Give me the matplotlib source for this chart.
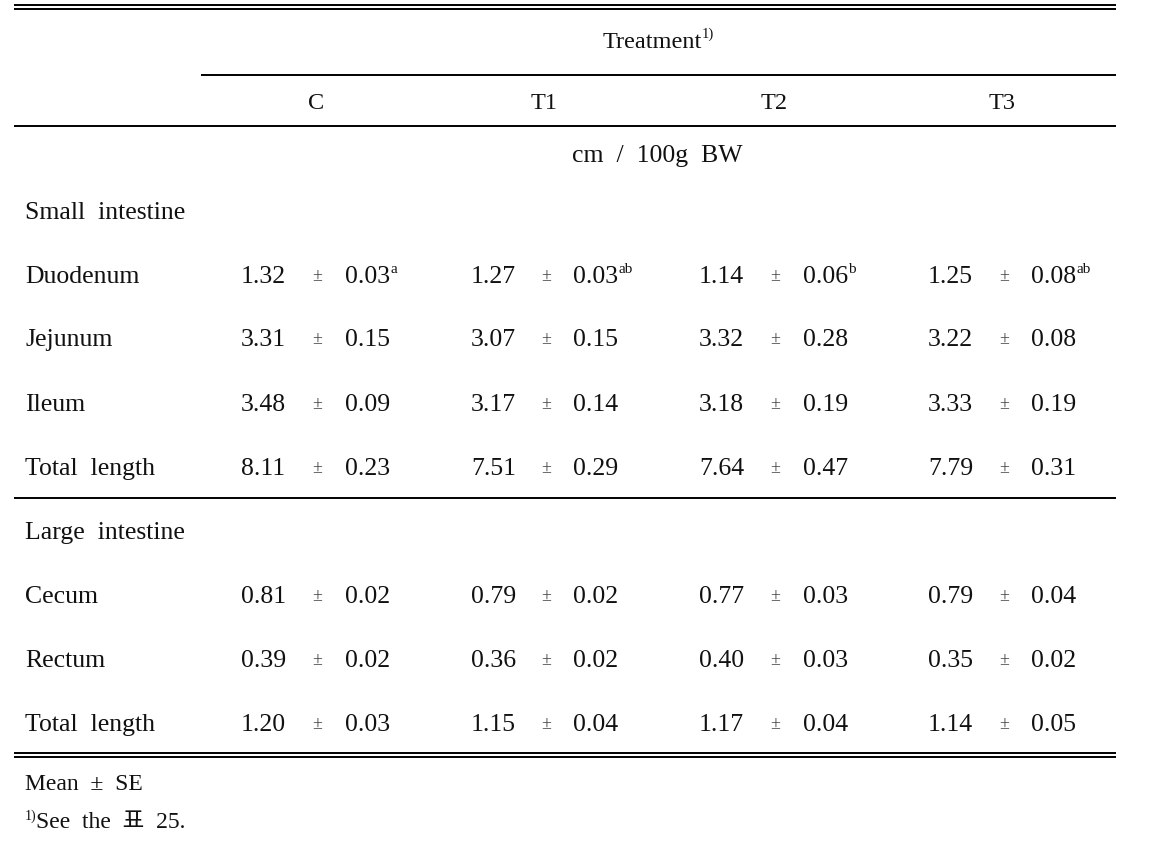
import matplotlib
matplotlib.use("Agg")
import matplotlib.pyplot as plt

# ---- data ----
treatments = ["C", "T1", "T2", "T3"]
row_labels = ["Duodenum", "Jejunum", "Ileum", "Total  length",
              "Cecum", "Rectum", "Total  length"]
means = {
    "C":  ["1.32", "3.31", "3.48", "8.11", "0.81", "0.39", "1.20"],
    "T1": ["1.27", "3.07", "3.17", "7.51", "0.79", "0.36", "1.15"],
    "T2": ["1.14", "3.32", "3.18", "7.64", "0.77", "0.40", "1.17"],
    "T3": ["1.25", "3.22", "3.33", "7.79", "0.79", "0.35", "1.14"],
}
ses = {
    "C":  ["0.03", "0.15", "0.09", "0.23", "0.02", "0.02", "0.03"],
    "T1": ["0.03", "0.15", "0.14", "0.29", "0.02", "0.02", "0.04"],
    "T2": ["0.06", "0.28", "0.19", "0.47", "0.03", "0.03", "0.04"],
    "T3": ["0.08", "0.08", "0.19", "0.31", "0.04", "0.02", "0.05"],
}
sups = {
    "C":  ["a", "", "", "", "", "", ""],
    "T1": ["ab", "", "", "", "", "", ""],
    "T2": ["b", "", "", "", "", "", ""],
    "T3": ["ab", "", "", "", "", "", ""],
}
header = "Treatment"
unit_label = "cm  /  100g  BW"
section_labels = ["Small  intestine", "Large  intestine"]
foot1 = "Mean  \u00b1  SE"
foot2 = "See  the  \ud45c  25."

W, H = 1149, 857
fig = plt.figure(figsize=(W / 100, H / 100), dpi=100)
ax = fig.add_axes([0, 0, 1, 1])
ax.set_xlim(0, W)
ax.set_ylim(H, 0)
ax.axis("off")

FAM = ["Liberation Serif", "Noto Sans CJK KR", "DejaVu Sans"]
FS = 18.5
HFS = 17.5
SFS = 11
col = "#111111"

def line(y, x0=14, x1=1116, lw=1.4):
    ax.plot([x0, x1], [y, y], color="black", lw=lw, solid_capstyle="butt")

# rules
line(4.5); line(8.5)
line(75, x0=201)
line(126)
line(498)
line(752.5); line(756.5)

renderer = fig.canvas.get_renderer()

def txt(x, y, s, ha="left", fs=FS, **kw):
    return ax.text(x, y, s, ha=ha, va="baseline", fontsize=fs,
                   family=FAM, color=col, **kw)

def sup_after(t, s, fs=SFS, dy=-10, gap=0):
    bb = t.get_window_extent(renderer=renderer)
    inv = ax.transData.inverted()
    x_end, _ = inv.transform((bb.x1, bb.y0))
    _, yb = t.get_position()
    txt(x_end + gap, yb + dy, s, fs=fs)

# header
t = txt(652, 48, header, ha="center", fs=HFS)
sup_after(t, "1)", dy=-10, fs=10.5)
col_centers = [316, 544, 774, 1002]
for tr, cx in zip(treatments, col_centers):
    txt(cx, 109, tr, ha="center", fs=HFS)

txt(657, 162, unit_label, ha="center")

txt(25, 219, section_labels[0])
txt(25, 539, section_labels[1])

row_y = [283, 346, 411, 475, 603, 667, 731]
mean_x = [241, 471, 699, 928]
pm_x = [317, 546, 775, 1004]
se_x = [345, 573, 803, 1031]
for j, tr in enumerate(treatments):
    for i, y in enumerate(row_y):
        if j == 0:
            txt(25, y, row_labels[i])
        txt(mean_x[j], y, means[tr][i])
        txt(pm_x[j], y - 2, "\u00b1", ha="center", fs=13, alpha=0.8)
        t = txt(se_x[j], y, ses[tr][i])
        if sups[tr][i]:
            sup_after(t, sups[tr][i])

txt(25, 790, foot1, fs=17)
txt(25, 820, "1)", fs=10)
txt(36, 828, foot2, fs=17)

fig.savefig("out.png", dpi=100, facecolor="white")
